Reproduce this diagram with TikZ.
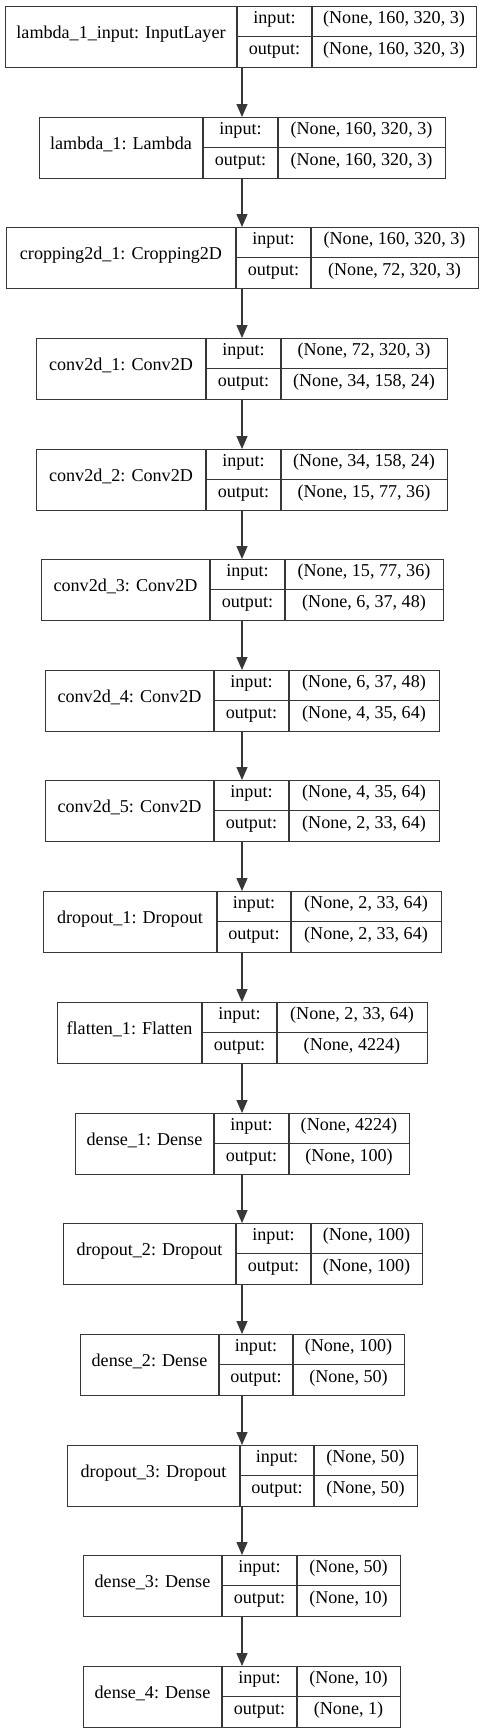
\documentclass[tikz,border=0pt]{standalone}
\usepackage{fontspec}
\setmainfont{Liberation Serif}
\usetikzlibrary{arrows.meta}
\definecolor{ink}{RGB}{55,55,55}
\tikzset{
  boxst/.style={draw=ink, line width=1.3pt, inner sep=0pt, anchor=north west},
  cellline/.style={draw=ink, line width=1.3pt},
  txt/.style={inner sep=0pt, text height=0.68em, text depth=0.2em, font=\fontsize{18.1pt}{21pt}\selectfont},
  arrowst/.style={draw=ink, line width=1.3pt, -{Triangle[length=13pt,width=11pt]}, shorten >=0pt}
}
% #1 name, #2 left, #3 divider1, #4 divider2, #5 right, #6 top, #7 label, #8 input shape, #9 output shape
\newcommand\layerbox[9]{%
  \node[boxst, minimum width={(#5-#2)*1pt}, minimum height=61pt] (#1) at (#2,#6) {};
  \draw[cellline] (#3,#6) -- (#3,#6+61);
  \draw[cellline] (#4,#6) -- (#4,#6+61);
  \draw[cellline] (#3,#6+30.5) -- (#5,#6+30.5);
  \node[txt] (#1-name) at ({(#2+#3)/2},{#6+30.5}) {#7};
  \node[txt] (#1-inl) at ({(#3+#4)/2},{#6+15.5}) {input:};
  \node[txt] (#1-outl) at ({(#3+#4)/2},{#6+46}) {output:};
  \node[txt] (#1-inv) at ({(#4+#5)/2},{#6+15.5}) {#8};
  \node[txt] (#1-outv) at ({(#4+#5)/2},{#6+46}) {#9};
}
\begin{document}
\begin{tikzpicture}[x=1pt,y=-1pt]
\useasboundingbox (0,0) rectangle (484,1733);
\coordinate (ax) at (242,0);
\layerbox{l1}{5}{237}{312}{476}{6}{lambda\_1\_input: InputLayer}{(None, 160, 320, 3)}{(None, 160, 320, 3)}
\layerbox{l2}{39}{203}{278}{445}{117}{lambda\_1: Lambda}{(None, 160, 320, 3)}{(None, 160, 320, 3)}
\layerbox{l3}{6}{236}{311}{478}{227}{cropping2d\_1: Cropping2D}{(None, 160, 320, 3)}{(None, 72, 320, 3)}
\layerbox{l4}{36}{206}{281}{447}{338}{conv2d\_1: Conv2D}{(None, 72, 320, 3)}{(None, 34, 158, 24)}
\layerbox{l5}{36}{206}{281}{447}{449}{conv2d\_2: Conv2D}{(None, 34, 158, 24)}{(None, 15, 77, 36)}
\layerbox{l6}{41}{210}{285}{443}{559}{conv2d\_3: Conv2D}{(None, 15, 77, 36)}{(None, 6, 37, 48)}
\layerbox{l7}{45}{214}{289}{439}{670}{conv2d\_4: Conv2D}{(None, 6, 37, 48)}{(None, 4, 35, 64)}
\layerbox{l8}{45}{214}{289}{439}{780}{conv2d\_5: Conv2D}{(None, 4, 35, 64)}{(None, 2, 33, 64)}
\layerbox{l9}{43}{217}{291}{441}{891}{dropout\_1: Dropout}{(None, 2, 33, 64)}{(None, 2, 33, 64)}
\layerbox{l10}{57}{202}{277}{427}{1002}{flatten\_1: Flatten}{(None, 2, 33, 64)}{(None, 4224)}
\layerbox{l11}{75}{214}{289}{409}{1113}{dense\_1: Dense}{(None, 4224)}{(None, 100)}
\layerbox{l12}{63}{236}{311}{422}{1223}{dropout\_2: Dropout}{(None, 100)}{(None, 100)}
\layerbox{l13}{80}{219}{293}{404}{1334}{dense\_2: Dense}{(None, 100)}{(None, 50)}
\layerbox{l14}{67}{240}{314}{417}{1445}{dropout\_3: Dropout}{(None, 50)}{(None, 50)}
\layerbox{l15}{83}{222}{297}{400}{1555}{dense\_3: Dense}{(None, 50)}{(None, 10)}
\layerbox{l16}{83}{222}{297}{400}{1666}{dense\_4: Dense}{(None, 10)}{(None, 1)}
\foreach \a/\b in {l1/l2,l2/l3,l3/l4,l4/l5,l5/l6,l6/l7,l7/l8,l8/l9,l9/l10,l10/l11,l11/l12,l12/l13,l13/l14,l14/l15,l15/l16}
  \draw[arrowst] (\a.south -| ax) -- (\b.north -| ax);
\end{tikzpicture}
\end{document}
